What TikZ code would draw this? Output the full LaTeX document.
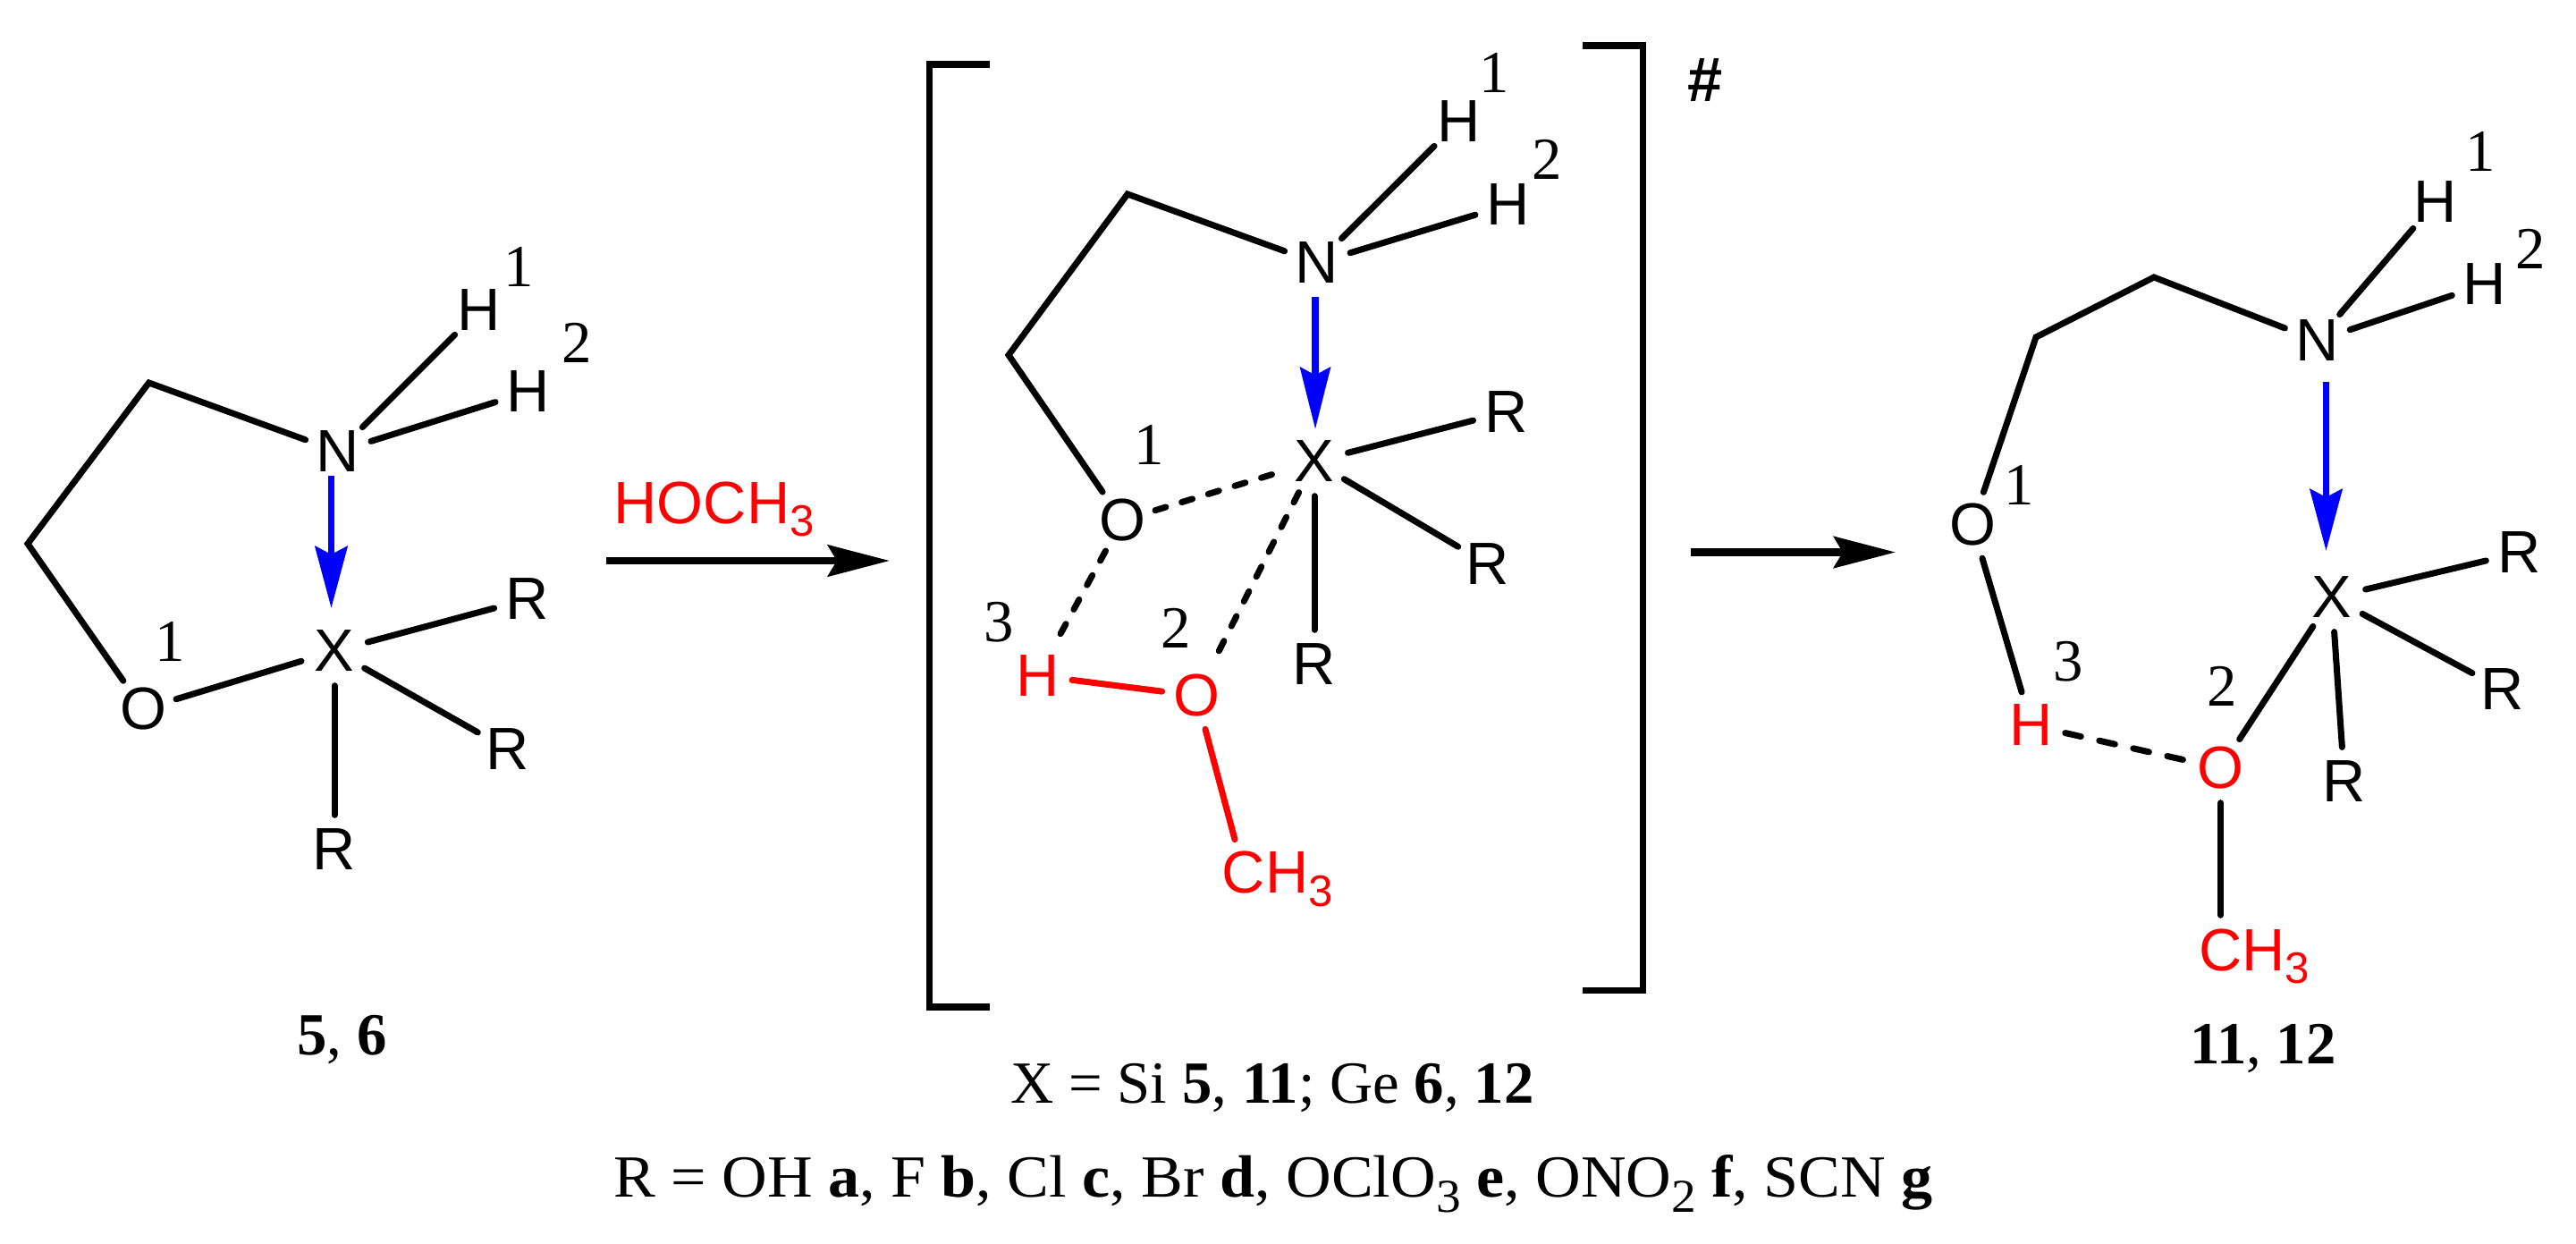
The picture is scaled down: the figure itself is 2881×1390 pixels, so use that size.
\documentclass[tikz,border=0pt]{standalone}
\usepackage{fontspec}
\setmainfont{Liberation Serif}
\newfontfamily\chemfont{Liberation Sans}
\usetikzlibrary{arrows.meta}
\definecolor{chemblue}{RGB}{0,0,255}
\definecolor{chemred}{RGB}{255,0,0}
\newcommand{\chemsub}[1]{\raisebox{-4pt}{\fontsize{14}{14}\selectfont #1}}
\tikzset{
  atom/.style={shape=circle,inner sep=0pt,minimum size=7.6mm,font=\chemfont\fontsize{19}{20}\selectfont},
  redatom/.style={atom,text=chemred},
  num/.style={inner sep=0pt,font=\fontsize{19}{20}\selectfont},
  caption/.style={inner sep=0pt,anchor=base,font=\fontsize{19}{22}\selectfont},
  bond/.style={line width=0.7mm,line cap=round,line join=miter},
  redbond/.style={bond,draw=chemred},
  dbond/.style={bond,dash pattern=on 1.25mm off 1.85mm},
  dbondwide/.style={bond,dash pattern=on 1.8mm off 2.1mm},
  coord/.style={line width=0.78mm,-{Stealth[length=6.9mm,width=3.6mm,inset=0.9mm]},draw=chemblue},
  react/.style={line width=0.85mm,-{Stealth[length=6.9mm,width=3.5mm,inset=1.0mm]}},
  brk/.style={line width=0.72mm,line cap=butt,line join=miter},
}
\begin{document}
\begin{tikzpicture}[x=0.1mm,y=-0.1mm]
\useasboundingbox (0,0) rectangle (2881,1390);

% ---- left molecule
\coordinate (aC1) at (166.5,428);
\coordinate (aC2) at (31,608);
\node[atom] (aO) at (160,793) {O};
\node[atom] (aN) at (378,505) {N};
\node[atom] (aX) at (374,728) {X};
\node[atom] (aH1) at (536,347) {H};
\node[atom] (aH2) at (591,438) {H};
\node[atom] (aR1) at (590,670) {R};
\node[atom] (aR2) at (568,838) {R};
\node[atom] (aR3) at (374,950) {R};
\node[num] (an1) at (580,298) {1};
\node[num] (an2) at (645,383) {2};
\node[num] (an3) at (190,717) {1};
\draw[bond] (aN) -- (aC1) -- (aC2) -- (aO);
\draw[bond] (aO) -- (aX);
\draw[bond] (aN) -- (aH1);
\draw[bond] (aN) -- (aH2);
\draw[bond] (aX) -- (aR1);
\draw[bond] (aX) -- (aR2);
\draw[bond] (aX) -- (aR3);
\coordinate (aA) at (370.5,532);
\coordinate (aB) at (370.5,680);
\draw[coord] (aA) -- (aB);

% ---- first reaction arrow
\node[inner sep=0pt,anchor=base west,text=chemred,font=\chemfont\fontsize{19}{20}\selectfont] (hoch) at (686,585) {HOCH\chemsub{3}};
\coordinate (r1a) at (678,627);
\coordinate (r1b) at (995,627);
\draw[react] (r1a) -- (r1b);

% ---- brackets
\coordinate (bl1) at (1107,72);
\coordinate (bl2) at (1039.5,72);
\coordinate (bl3) at (1039.5,1126);
\coordinate (bl4) at (1107,1126);
\coordinate (br1) at (1770,51);
\coordinate (br2) at (1837.5,51);
\coordinate (br3) at (1837.5,1107.5);
\coordinate (br4) at (1770,1107.5);
\draw[brk] (bl1) -- (bl2) -- (bl3) -- (bl4);
\draw[brk] (br1) -- (br2) -- (br3) -- (br4);
\node[inner sep=0pt,font=\chemfont\bfseries\fontsize{20}{20}\selectfont] (hash) at (1907,90) {\#};

% ---- middle molecule
\coordinate (bC1) at (1261,217);
\coordinate (bC2) at (1128,397);
\node[atom] (bO) at (1255,582) {O};
\node[atom] (bN) at (1473,294) {N};
\node[atom] (bX) at (1470,516) {X};
\node[atom] (bH1) at (1631.5,136) {H};
\node[atom] (bH2) at (1687,229) {H};
\node[atom] (bR1) at (1685,460.5) {R};
\node[atom] (bR2) at (1664,631) {R};
\node[atom] (bR3) at (1470,743) {R};
\node[redatom] (bH3) at (1160.6,755.5) {H};
\node[redatom] (bO2) at (1338,778) {O};
\node[redatom] (bMe) at (1391,976) {C\rlap{\smash{H\chemsub{3}}}};
\node[num] (bn1) at (1671,81) {1};
\node[num] (bn2) at (1730,178) {2};
\node[num] (bn3) at (1285,497) {1};
\node[num] (bn4) at (1117,695.5) {3};
\node[num] (bn5) at (1315,702) {2};
\draw[bond] (bN) -- (bC1) -- (bC2) -- (bO);
\draw[bond] (bN) -- (bH1);
\draw[bond] (bN) -- (bH2);
\draw[bond] (bX) -- (bR1);
\draw[bond] (bX) -- (bR2);
\draw[bond] (bX) -- (bR3);
\draw[dbond] (bO) -- (bX);
\draw[dbond] (bO) -- (bH3);
\draw[dbond] (bX) -- (bO2);
\draw[redbond] (bH3) -- (bO2);
\draw[redbond] (bO2) -- (bMe);
\coordinate (bA) at (1471,332);
\coordinate (bB) at (1471,480);
\draw[coord,-{Stealth[length=6.9mm,width=3.35mm,inset=0.85mm]}] (bA) -- (bB);

% ---- second reaction arrow
\coordinate (r2a) at (1891,617.5);
\coordinate (r2b) at (2120,617.5);
\draw[react] (r2a) -- (r2b);

% ---- right molecule
\coordinate (cC0) at (2277,377);
\coordinate (cC1) at (2409,310);
\node[atom] (cO) at (2206,587) {O};
\node[atom] (cN) at (2591.5,381) {N};
\node[atom] (cX) at (2608,668) {X};
\node[atom] (cH1) at (2724,226) {H};
\node[atom] (cH2) at (2779,318) {H};
\node[atom] (cR1) at (2818,618) {R};
\node[atom] (cR2) at (2799,771) {R};
\node[atom] (cR3) at (2622,874) {R};
\node[redatom] (cH3) at (2272,811) {H};
\node[redatom] (cO2) at (2483.5,859) {O};
\node[redatom] (cMe) at (2483.5,1062) {C\rlap{\smash{H\chemsub{3}}}};
\node[num] (cn1) at (2774,169) {1};
\node[num] (cn2) at (2830.6,278) {2};
\node[num] (cn3) at (2258,542) {1};
\node[num] (cn4) at (2313,740) {3};
\node[num] (cn5) at (2485,767) {2};
\draw[bond] (cN) -- (cC1) -- (cC0) -- (cO);
\draw[bond] (cO) -- (cH3);
\draw[bond] (cN) -- (cH1);
\draw[bond] (cN) -- (cH2);
\draw[bond] (cX) -- (cR1);
\draw[bond] (cX) -- (cR2);
\draw[bond] (cX) -- (cR3);
\draw[bond] (cX) -- (cO2);
\draw[bond] (cO2) -- (cMe);
\draw[dbondwide] (cH3) -- (cO2);
\coordinate (cA) at (2601.5,427);
\coordinate (cB) at (2601.5,616);
\draw[coord] (cA) -- (cB);

% ---- captions
\node[caption] (l5) at (382.5,1179) {\textbf{5}, \textbf{6}};
\node[caption] (l11) at (2531,1189) {\textbf{11}, \textbf{12}};
\node[caption] (lX) at (1423,1233) {X = Si \textbf{5}, \textbf{11}; Ge \textbf{6}, \textbf{12}};
\node[caption] (lR) at (1424,1338) {\scalebox{1.05}[1]{R = OH \textbf{a}, F \textbf{b}, Cl \textbf{c}, Br \textbf{d}, OClO\raisebox{-5pt}{\fontsize{15}{15}\selectfont 3} \textbf{e}, ONO\raisebox{-5pt}{\fontsize{15}{15}\selectfont 2} \textbf{f}, SCN \textbf{g}}};
\end{tikzpicture}
\end{document}
